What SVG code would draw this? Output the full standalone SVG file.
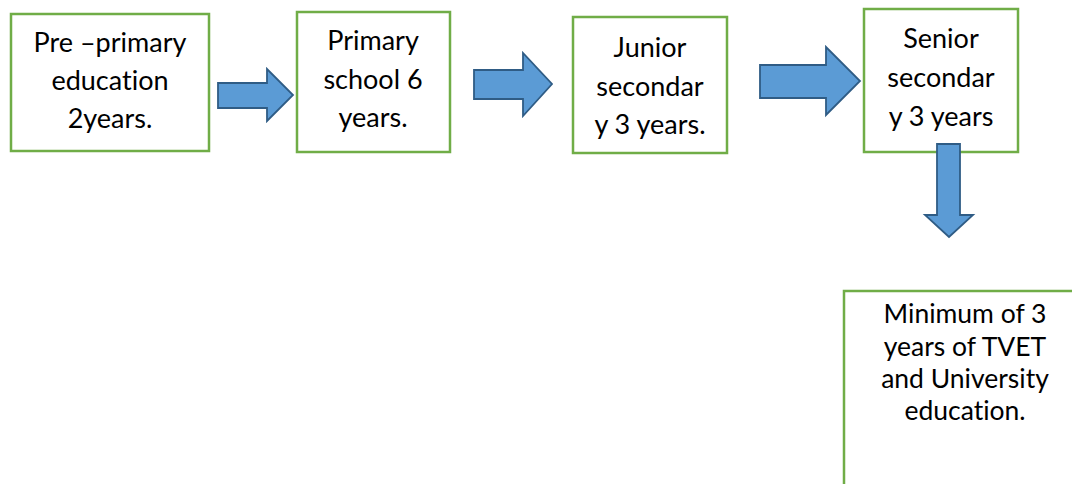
<svg xmlns="http://www.w3.org/2000/svg" width="1072" height="484" viewBox="0 0 1072 484">
<style>
.box{fill:#fff;stroke:#70AD47;stroke-width:2.5}
.arr{fill:#5B9BD5;stroke:#2F5C85;stroke-width:1.8;stroke-linejoin:miter}
.t{font-family:Lato,"Open Sans","Liberation Sans",sans-serif;font-size:27px;fill:#000;text-anchor:middle;font-variant-ligatures:none}
.t2{font-family:Lato,"Open Sans","Liberation Sans",sans-serif;font-size:26.5px;fill:#000;text-anchor:middle;font-variant-ligatures:none}
</style>
<rect width="1072" height="484" fill="#fff"/>
<g id="n1">
<rect class="box" x="11" y="14" width="198" height="137"/>
<text class="t" x="110" y="52">Pre –primary</text>
<text class="t" x="110" y="90">education</text>
<text class="t" x="110" y="128">2years.</text>
</g>
<g id="n2">
<rect class="box" x="297" y="12" width="153" height="140"/>
<text class="t" x="373" y="50">Primary</text>
<text class="t" x="373" y="89">school 6</text>
<text class="t" x="373" y="127">years.</text>
</g>
<g id="n3">
<rect class="box" x="573" y="17" width="154" height="136"/>
<text class="t" x="650" y="57">Junior</text>
<text class="t" x="650" y="96">secondar</text>
<text class="t" x="650" y="134">y 3 years.</text>
</g>
<g id="n4">
<rect class="box" x="864" y="9" width="154" height="143"/>
<text class="t" x="941" y="48">Senior</text>
<text class="t" x="941" y="87">secondar</text>
<text class="t" x="941" y="126">y 3 years</text>
</g>
<g id="n5">
<rect class="box" x="844" y="291" width="240" height="200"/>
<text class="t2" x="965" y="323">Minimum of 3</text>
<text class="t2" x="965" y="356">years of TVET</text>
<text class="t2" x="965" y="388">and University</text>
<text class="t2" x="965" y="420">education.</text>
</g>
<g id="connectors">
<polygon class="arr" points="218,83 267,83 267,69 293,95 267,121 267,108 218,108"/>
<polygon class="arr" points="474,70 523,70 523,53 552,84 523,116 523,99 474,99"/>
<polygon class="arr" points="760,65 826,65 826,47 860,81 826,115 826,98 760,98"/>
<polygon class="arr" points="937,144 960,144 960,215 973,215 949,237 925,215 937,215"/>
</g>
</svg>
